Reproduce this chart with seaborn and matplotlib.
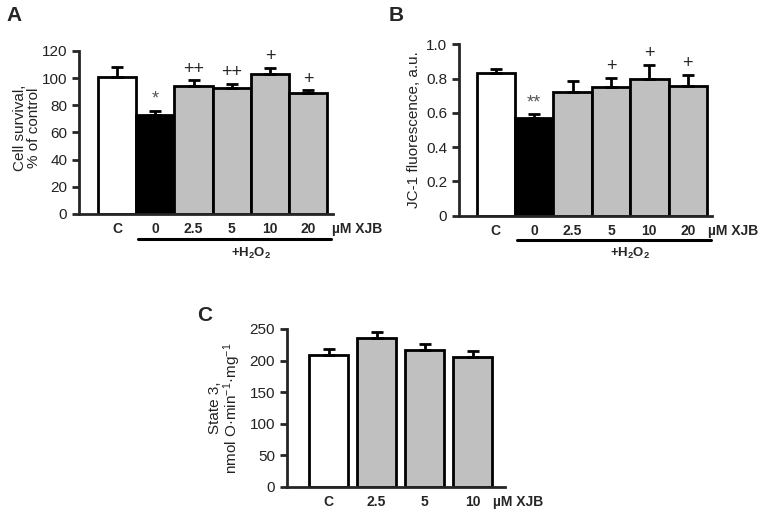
import numpy as np
import pandas as pd
import seaborn as sns
import matplotlib.pyplot as plt
from matplotlib import transforms

# panel A: cell survival
conc_a = ['C', '0', '2.5', '5', '10', '20']
survival = [101, 73, 94, 93, 103, 89]
survival_err = [7.5, 3, 4.5, 3, 4.5, 2]
survival_marks = ['', '*', '++', '++', '+', '+']

# panel B: JC-1 fluorescence
jc1 = [0.835, 0.571, 0.72, 0.752, 0.796, 0.757]
jc1_err = [0.019, 0.021, 0.065, 0.052, 0.083, 0.066]
jc1_marks = ['', '**', '', '+', '+', '+']

# panel C: state 3 respiration
conc_c = ['C', '2.5', '5', '10']
state3 = [209, 236, 217, 205]
state3_err = [9, 9, 9, 9.5]

GRAY = '#c0c0c0'
colors_a = dict(zip(conc_a, ['white', 'black', GRAY, GRAY, GRAY, GRAY]))
colors_c = dict(zip(conc_c, ['white', GRAY, GRAY, GRAY]))

sns.set_style('ticks')
plt.rcParams['font.family'] = ['Liberation Sans', 'DejaVu Sans']
plt.rcParams['mathtext.fontset'] = 'custom'
plt.rcParams['mathtext.rm'] = 'Liberation Sans'
plt.rcParams['mathtext.bf'] = 'Liberation Sans:bold'
plt.rcParams['mathtext.it'] = 'Liberation Sans:italic'


def bar_panel(ax, cats, vals, errs, colors, width, ylim, yticks, ylabel, xlim, unit_x=1.0):
    df = pd.DataFrame({'conc': cats, 'val': vals})
    sns.barplot(data=df, x='conc', y='val', hue='conc', palette=colors, order=cats,
                legend=False, width=width, edgecolor='black', linewidth=2,
                errorbar=None, ax=ax)
    n = len(vals)
    ax.errorbar(np.arange(n), vals, yerr=[np.zeros(n), errs], fmt='none',
                ecolor='black', elinewidth=2, capsize=4, capthick=2, zorder=3)
    ax.set_xlim(*xlim)
    ax.set_ylim(*ylim)
    ax.set_yticks(yticks)
    for s in ['left', 'bottom']:
        ax.spines[s].set_linewidth(2)
    sns.despine(ax=ax)
    ax.tick_params(axis='y', length=5, width=2, labelsize=11, labelcolor='#222')
    ax.tick_params(axis='x', length=0, pad=6, labelsize=10)
    plt.setp(ax.get_xticklabels(), fontweight='bold', fontsize=10)
    ax.set_xlabel('')
    ax.set_ylabel(ylabel, fontsize=11, color='#222', linespacing=1.0)
    ax.annotate('µM XJB', xy=(unit_x, 0), xycoords='axes fraction', xytext=(0, -6),
                textcoords='offset points', ha='left', va='top',
                fontsize=10, fontweight='bold')


def marks(ax, vals, errs, labels):
    for i, (v, e, t) in enumerate(zip(vals, errs, labels)):
        if not t:
            continue
        if '*' in t:
            ax.annotate(t, xy=(i, v + e), xytext=(0, 2), textcoords='offset points',
                        ha='center', va='bottom', fontsize=13, color='#555')
        else:
            ax.annotate(t, xy=(i, v + e), xytext=(0, 8), textcoords='offset points',
                        ha='center', va='center', fontsize=13)


def h2o2(ax, y_line, y_text):
    tr = transforms.blended_transform_factory(ax.transData, ax.transAxes)
    ax.plot([0.55, 5.6], [y_line, y_line], color='black', lw=2.2,
            transform=tr, clip_on=False)
    ax.text(3.5, y_text, r'$\mathbf{+H_2O_2}$', transform=tr, ha='center',
            va='center', fontsize=9.5)


fig = plt.figure(figsize=(7.64, 5.15), dpi=100)

ax_a = fig.add_axes([0.1034, 0.5845, 0.3325, 0.3165])
bar_panel(ax_a, conc_a, survival, survival_err, colors_a, 1.0, (0, 120),
          range(0, 121, 20), 'Cell survival,\n% of control', (-1, 5.65), unit_x=0.995)
marks(ax_a, survival, survival_err, survival_marks)
h2o2(ax_a, -0.153, -0.24)
ax_a.yaxis.set_label_coords(-0.15, 0.53)

ax_b = fig.add_axes([0.6008, 0.581, 0.331, 0.333])
bar_panel(ax_b, conc_a, jc1, jc1_err, colors_a, 1.0, (0, 1.0),
          [0, 0.2, 0.4, 0.6, 0.8, 1.0], 'JC-1 fluorescence, a.u.', (-0.96, 5.63),
          unit_x=0.985)
ax_b.set_yticklabels(['0', '0.2', '0.4', '0.6', '0.8', '1.0'])
marks(ax_b, jc1, jc1_err, jc1_marks)
h2o2(ax_b, -0.142, -0.217)
ax_b.yaxis.set_label_coords(-0.15, 0.5)

ax_c = fig.add_axes([0.3757, 0.0544, 0.2853, 0.3068])
bar_panel(ax_c, conc_c, state3, state3_err, colors_c, 0.81, (0, 250),
          range(0, 251, 50), 'State 3,\nnmol O·min$^{-1}$·mg$^{-1}$', (-0.865, 3.677),
          unit_x=0.945)
ax_c.yaxis.set_label_coords(-0.2, 0.5)

fig.text(0.019, 0.970, 'A', fontsize=15, fontweight='bold', va='center', ha='center')
fig.text(0.518, 0.970, 'B', fontsize=15, fontweight='bold', va='center', ha='center')
fig.text(0.268, 0.388, 'C', fontsize=15, fontweight='bold', va='center', ha='center')

fig.savefig('out.png', dpi=100)
